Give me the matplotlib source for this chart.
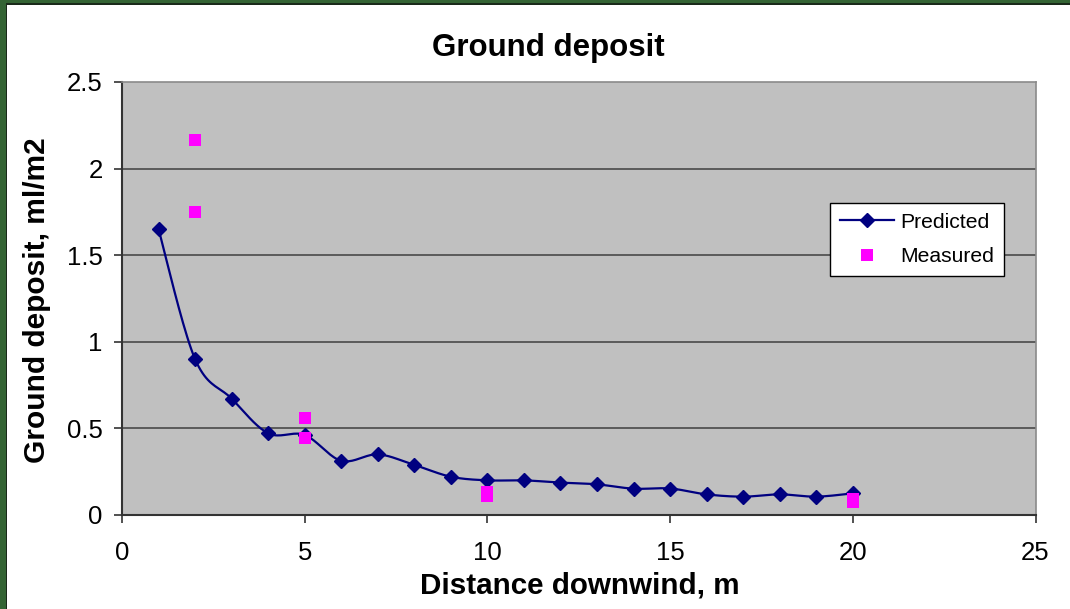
import matplotlib.pyplot as plt
import numpy as np
from matplotlib.patches import Rectangle
from matplotlib.lines import Line2D

plt.rcParams['font.family'] = ['Liberation Sans', 'DejaVu Sans']

# predicted ground deposit (model)
pred_x = [1, 2, 3, 4, 5, 6, 7, 8, 9, 10, 11, 12, 13, 14, 15, 16, 17, 18, 19, 20]
pred_y = [1.65, 0.90, 0.672, 0.472, 0.462, 0.313, 0.35, 0.289, 0.221, 0.20,
          0.20, 0.187, 0.177, 0.152, 0.153, 0.119, 0.106, 0.119, 0.106, 0.125]

# measured ground deposit
meas_x = [2, 2, 5, 5, 10, 10, 20, 20]
meas_y = [2.165, 1.749, 0.562, 0.446, 0.135, 0.112, 0.09, 0.077]

x_ticks = [0, 5, 10, 15, 20, 25]
y_ticks = [0, 0.5, 1, 1.5, 2, 2.5]
y_tick_labels = ['0', '0.5', '1', '1.5', '2', '2.5']


def smooth(xs, ys, n=20):
    # catmull-rom style smoothing, like excel's "smoothed line"
    p = np.column_stack([xs, ys]).astype(float)
    p = np.vstack([p[0], p, p[-1]])
    out = []
    t = np.linspace(0, 1, n, endpoint=False)[:, None]
    for i in range(1, len(p) - 2):
        p0, p1, p2, p3 = p[i - 1], p[i], p[i + 1], p[i + 2]
        c1 = p1 + (p2 - p0) / 6
        c2 = p2 - (p3 - p1) / 6
        seg = ((1 - t) ** 3 * p1 + 3 * (1 - t) ** 2 * t * c1
               + 3 * (1 - t) * t ** 2 * c2 + t ** 3 * p2)
        out.append(seg)
    out.append(p[-2][None, :])
    out = np.vstack(out)
    return out[:, 0], out[:, 1]


fig = plt.figure(figsize=(10.70, 6.09), dpi=100)
fig.patch.set_facecolor('white')
ax = fig.add_axes([122 / 1070, 1 - 515 / 609, 913.5 / 1070, 433 / 609])
ax.set_facecolor('#c0c0c0')

# slide border (green) on top and left
fig.patches.append(Rectangle((0, 0), 7 / 1070, 1, transform=fig.transFigure,
                             facecolor='#346434', edgecolor='none', zorder=10))
fig.patches.append(Rectangle((0, 1 - 4 / 609), 1, 4 / 609, transform=fig.transFigure,
                             facecolor='#346434', edgecolor='none', zorder=10))
fig.patches.append(Rectangle((6 / 1070, 0), 1.2 / 1070, 1 - 3 / 609, transform=fig.transFigure,
                             facecolor='#1a2a1a', edgecolor='none', zorder=11))
fig.patches.append(Rectangle((6 / 1070, 1 - 4.5 / 609), 1 - 6 / 1070, 1.2 / 609,
                             transform=fig.transFigure,
                             facecolor='#1a2a1a', edgecolor='none', zorder=11))

for yv in y_ticks[1:-1]:
    ax.axhline(yv, color='#4a4a4a', lw=1.2, zorder=1)

sx, sy = smooth(pred_x, pred_y)
ax.plot(sx, sy, color='#000080', lw=1.6, zorder=3)
ax.plot(pred_x, pred_y, linestyle='none', marker='D', markersize=7.4,
        color='#000080', zorder=4)
ax.plot(meas_x, meas_y, linestyle='none', marker='s', markersize=8.5,
        markeredgewidth=0, color='#ff00ff', zorder=5)

ax.set_xlim(0, 25)
ax.set_ylim(0, 2.5)
ax.set_xticks(x_ticks)
ax.set_yticks(y_ticks)
ax.set_yticklabels(y_tick_labels)
ax.tick_params(axis='both', labelsize=18.5, length=6, width=1.2, color='#333333',
               direction='out')
ax.tick_params(axis='y', pad=8)
ax.tick_params(axis='x', pad=13)

for s in ['left', 'bottom']:
    ax.spines[s].set_color('#333333')
    ax.spines[s].set_linewidth(1.5)
for s in ['top', 'right']:
    ax.spines[s].set_color('#8a8a8a')
    ax.spines[s].set_linewidth(1.2)

fig.text(548 / 1070, 1 - 48 / 609, 'Ground deposit', ha='center', va='center',
         fontsize=22.5, fontweight='bold')
fig.text(580 / 1070, 1 - 585 / 609, 'Distance downwind, m', ha='center', va='center',
         fontsize=21.3, fontweight='bold')
fig.text(37 / 1070, 1 - 300 / 609, 'Ground deposit, ml/m2', ha='center', va='center',
         rotation=90, fontsize=21.5, fontweight='bold')

h1 = Line2D([], [], color='#000080', lw=1.6, marker='D', markersize=7.4)
h2 = Line2D([], [], linestyle='none', marker='s', markersize=8.5,
            markeredgewidth=0, color='#ff00ff')
leg = ax.legend([h1, h2], ['Predicted', 'Measured'], loc='upper left',
                bbox_to_anchor=((830 - 122) / 913.5, (515 - 203) / 433),
                borderaxespad=0, fontsize=15.2, fancybox=False, framealpha=1,
                edgecolor='black', handlelength=2.6, handletextpad=0.3,
                labelspacing=0.75, borderpad=0.45)
leg.get_frame().set_linewidth(1.0)

fig.savefig('out.png', dpi=100)
